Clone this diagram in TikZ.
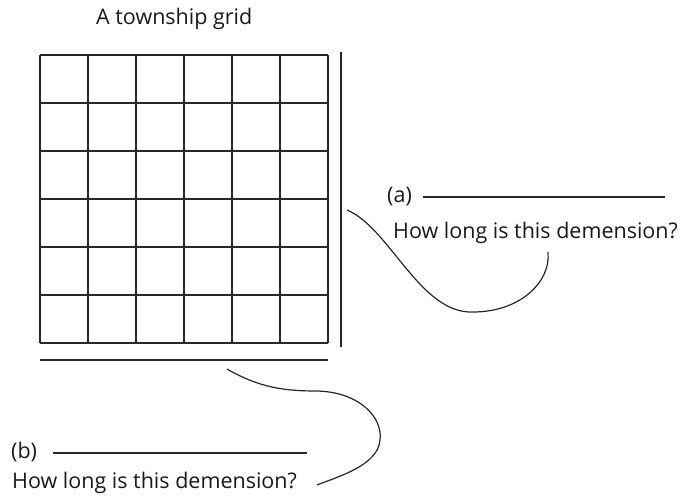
\documentclass[tikz,border=0pt]{standalone}
\usepackage{fontspec}
\setmainfont{Open Sans}
\begin{document}
\begin{tikzpicture}[x=1pt,y=-1pt,
  gridline/.style={line width=1.6pt,black!85},
  rule/.style={line width=1.4pt,black!85},
  lbl/.style={inner sep=0pt,font=\fontsize{21.5}{24}\selectfont,text=black!90},
  curve/.style={line width=1.2pt,black!85}]
\useasboundingbox (0,0) rectangle (681,501);
\node[lbl,anchor=base west] (title) at (96,24) {A township grid};
% grid
\foreach \i in {0,...,6} {
  \draw[gridline] (40+48*\i,55) -- (40+48*\i,343);
  \draw[gridline] (40,55+48*\i) -- (328,55+48*\i);
}
% dimension lines
\coordinate (vt) at (341,52);
\coordinate (vb) at (341,347);
\draw[rule] (vt) -- (vb);
\coordinate (hl) at (40,360);
\coordinate (hr) at (328,360);
\draw[rule] (hl) -- (hr);
% label a
\node[lbl,anchor=base west] (la) at (387,202) {(a)};
\coordinate (a1) at (423,197);
\coordinate (a2) at (665,197);
\draw[rule] (a1) -- (a2);
\node[lbl,anchor=base west] (qa) at (393,238) {How long is this demension?};
% label b
\node[lbl,anchor=base west] (lb) at (11,458) {(b)};
\coordinate (b1) at (53,453);
\coordinate (b2) at (307,453);
\draw[rule] (b1) -- (b2);
\node[lbl,anchor=base west] (qb) at (12,488) {How long is this demension?};
% curves
\coordinate (ca0) at (347,210);
\coordinate (ca1) at (473,312);
\coordinate (ca2) at (548,252);
\draw[curve] (ca0) .. controls (390,228) and (420,314) .. (ca1)
  .. controls (520,312) and (551,282) .. (ca2);
\coordinate (cb0) at (227,369);
\coordinate (cb1) at (317,391);
\coordinate (cb2) at (380,440);
\coordinate (cb3) at (317,485);
\draw[curve] (cb0) .. controls (260,388) and (285,391) .. (cb1)
  .. controls (360,392) and (383,418) .. (cb2)
  .. controls (378,465) and (340,476) .. (cb3);
\end{tikzpicture}
\end{document}
